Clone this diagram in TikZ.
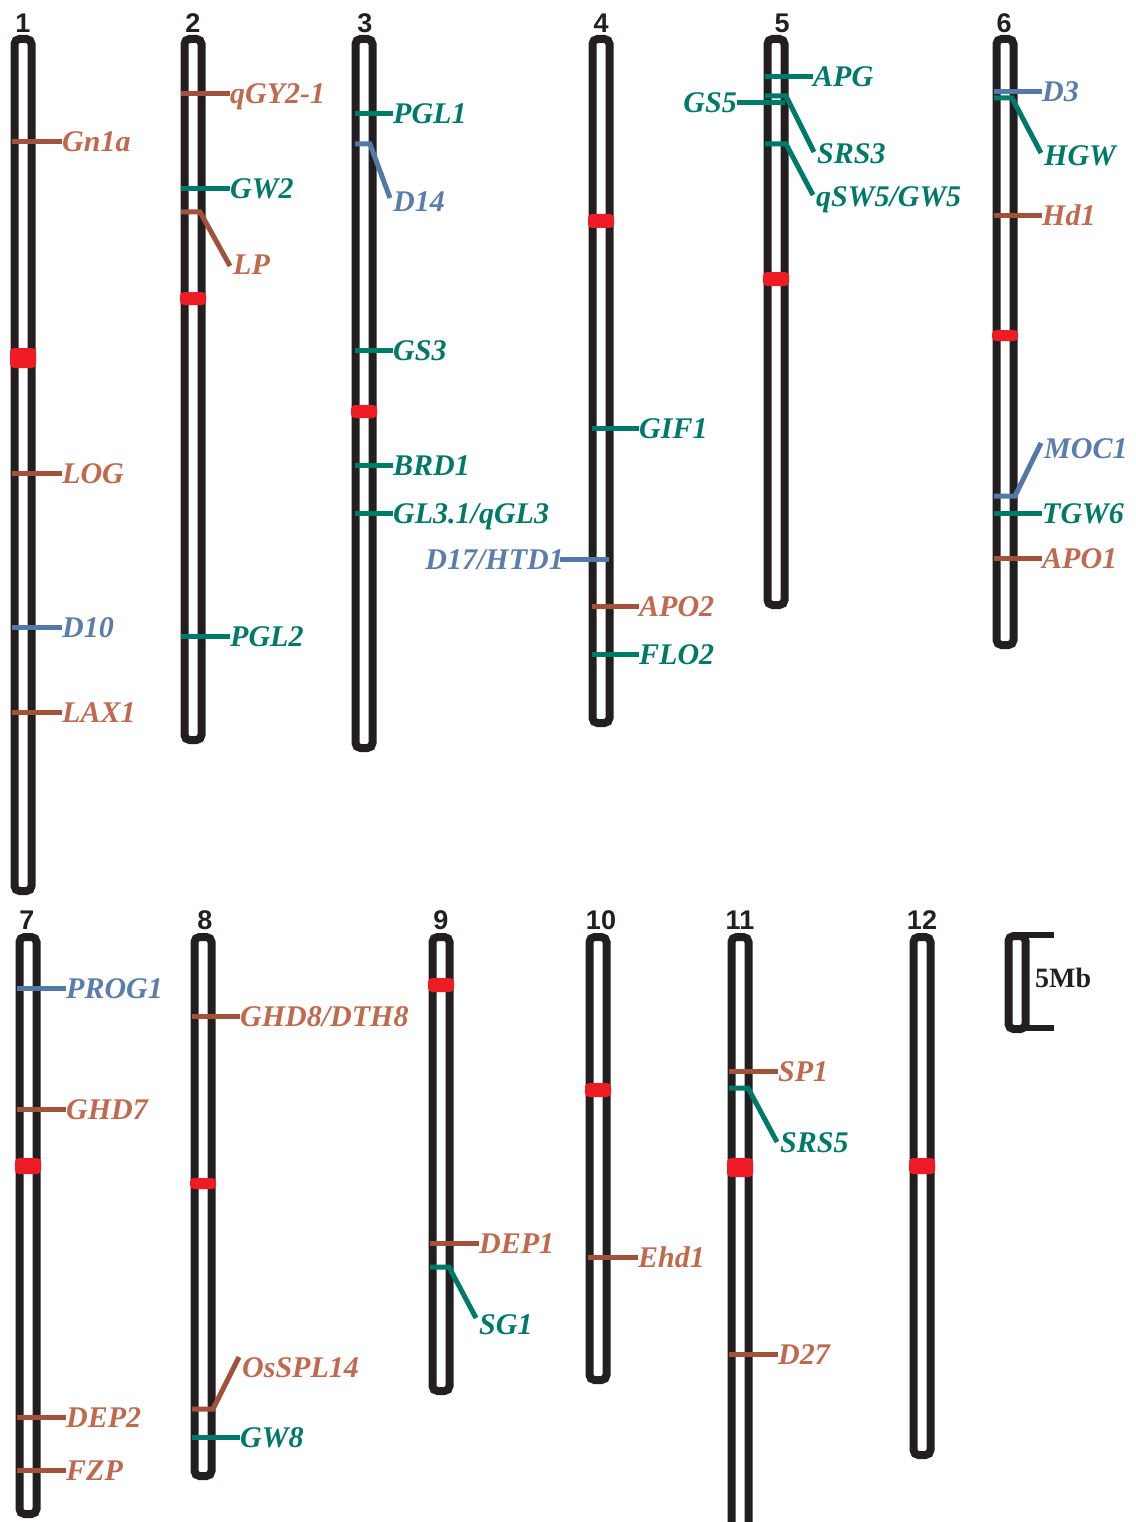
\documentclass[tikz,border=0pt]{standalone}
\usepackage{fontspec}
\setmainfont{Liberation Serif}
\newfontfamily\numfont{Liberation Sans}
\definecolor{chromc}{HTML}{231F20}
\definecolor{cenred}{HTML}{ED1C24}
\definecolor{brl}{HTML}{A0523A}
\definecolor{brt}{HTML}{BF6A4E}
\definecolor{tll}{HTML}{007A68}
\definecolor{tlt}{HTML}{007A68}
\definecolor{bll}{HTML}{5478A8}
\definecolor{blt}{HTML}{5A7DAC}
\tikzset{
  chrom/.style={draw=chromc, line width=8pt, rounded corners=5pt, fill=white},
  cen/.style={fill=cenred, rounded corners=4pt},
  mline/.style={line width=5pt},
  lab/.style={inner sep=0pt, text height=20pt, text depth=0pt, font=\bfseries\itshape\fontsize{30}{30}\selectfont},
  num/.style={inner sep=0pt, text=chromc, font=\numfont\bfseries\fontsize{27}{27}\selectfont},
}
% straight marker: colour, x1, x2, y, name, text
\newcommand{\mk}[6]{%
  \coordinate (#5a) at (#2,#4);
  \node[lab, text=#1t, anchor=west] (#5) at (#3+1,#4) {#6};
  \draw[mline, draw=#1l] (#5a) -- (#5.west);
}
% bent marker: colour, x1, xknee, y, x2, y2, label y, name, text
\newcommand{\bk}[9]{%
  \coordinate (#8a) at (#2,#4);
  \coordinate (#8k) at (#3,#4);
  \coordinate (#8e) at (#5,#6);
  \node[lab, text=#1t, anchor=west] (#8) at (#5+3,#7) {#9};
  \draw[mline, draw=#1l, line join=miter] (#8a) -- (#8k) -- (#8e);
}
% chromosome: name, cx, top, bottom
\newcommand{\chr}[4]{%
  \draw[chrom] (#2-8.5,#3) rectangle (#2+8.5,#4);
  \coordinate (#1) at (#2,#3);
}
% centromere: cx, y1, y2
\newcommand{\cen}[3]{\fill[cen] (#1-13,#2) rectangle (#1+13,#3);}
\begin{document}
\begin{tikzpicture}[x=1pt,y=-1pt]
\clip (0,0) rectangle (1135,1522);
\fill[white] (0,0) rectangle (1135,1522);

% chromosome numbers
\node[num, anchor=base] (n1) at (23,33) {1};
\node[num, anchor=base] (n2) at (193,33) {2};
\node[num, anchor=base] (n3) at (365,33) {3};
\node[num, anchor=base] (n4) at (601,33) {4};
\node[num, anchor=base] (n5) at (782,33) {5};
\node[num, anchor=base] (n6) at (1004,33) {6};
\node[num, anchor=base] (n7) at (27,929) {7};
\node[num, anchor=base] (n8) at (205,929) {8};
\node[num, anchor=base] (n9) at (441,929) {9};
\node[num, anchor=base] (n10) at (601,929) {10};
\node[num, anchor=base] (n11) at (740,929) {11};
\node[num, anchor=base] (n12) at (922,929) {12};

% chromosomes
\chr{c1}{23}{39}{891}
\chr{c2}{193}{39}{740}
\chr{c3}{364}{39}{748}
\chr{c4}{601}{39}{723}
\chr{c5}{776}{39}{605}
\chr{c6}{1005}{39}{645}
\chr{c7}{28}{937}{1514}
\chr{c8}{203}{937}{1476}
\chr{c9}{441}{937}{1391}
\chr{c10}{598}{937}{1380}
\chr{c11}{740}{937}{1545}
\chr{c12}{922}{937}{1455}

% centromeres
\cen{23}{348}{368}
\cen{193}{292}{305}
\cen{364}{405}{418}
\cen{601}{214}{228}
\cen{776}{272}{286}
\cen{1005}{330}{341}
\cen{28}{1158}{1174}
\cen{203}{1178}{1189}
\cen{441}{978}{992}
\cen{598}{1083}{1097}
\cen{740}{1158}{1177}
\cen{922}{1158}{1174}

% chromosome 1
\mk{br}{12}{61}{142}{gnla}{Gn1a}
\mk{br}{12}{61}{473}{logg}{LOG}
\mk{bl}{12}{61}{627}{dten}{D10}
\mk{br}{12}{61}{712}{laxa}{LAX1}

% chromosome 2
\mk{br}{181}{229}{94}{qgy}{qGY2-1}
\mk{tl}{181}{229}{189}{gwtwo}{GW2}
\bk{br}{181}{200}{212}{230}{266}{264}{lp}{LP}
\mk{tl}{181}{229}{636}{pgltwo}{PGL2}

% chromosome 3
\mk{tl}{355}{392}{114}{pglone}{PGL1}
\bk{bl}{355}{370}{144}{390}{198}{202}{dft}{D14}
\mk{tl}{355}{392}{350}{gsthree}{GS3}
\mk{tl}{355}{392}{465}{brd}{BRD1}
\mk{tl}{355}{392}{513}{glthree}{GL3.1/qGL3}

% chromosome 4
\mk{tl}{592}{638}{428}{gif}{GIF1}
\coordinate (dhtda) at (609,559);
\node[lab, text=blt, anchor=east] (dhtd) at (564,559) {D17/HTD1};
\draw[mline, draw=bll] (dhtda) -- ([xshift=-4pt]dhtd.east);
\mk{br}{592}{638}{606}{apotwo}{APO2}
\mk{tl}{592}{638}{654}{flo}{FLO2}

% chromosome 5
\mk{tl}{765}{812}{77}{apg}{APG}
\bk{tl}{765}{786}{96}{814}{152}{154}{srsthree}{SRS3}
\bk{tl}{765}{786}{144}{813}{195}{197}{qsw}{qSW5/GW5}
\coordinate (gsfivea) at (785,103);
\node[lab, text=tlt, anchor=east] (gsfive) at (737,103) {GS5};
\draw[mline, draw=tll] (gsfivea) -- (gsfive.east);

% chromosome 6
\mk{bl}{994}{1041}{92}{dthree}{D3}
\bk{tl}{994}{1012}{98}{1041}{153}{156}{hgw}{HGW}
\mk{br}{994}{1041}{216}{hdone}{Hd1}
\bk{bl}{994}{1015}{496}{1041}{443}{448}{moc}{MOC1}
\mk{tl}{994}{1041}{513}{tgw}{TGW6}
\mk{br}{994}{1041}{558}{apoone}{APO1}

% chromosome 7
\mk{bl}{17}{65}{988}{prog}{PROG1}
\mk{br}{17}{65}{1109}{ghdseven}{GHD7}
\mk{br}{17}{65}{1417}{deptwo}{DEP2}
\mk{br}{17}{65}{1470}{fzp}{FZP}

% chromosome 8
\mk{br}{192}{239}{1016}{ghdeight}{GHD8/DTH8}
\bk{br}{192}{213}{1409}{239}{1357}{1367}{osspl}{OsSPL14}
\mk{tl}{192}{239}{1437}{gweight}{GW8}

% chromosome 9
\mk{br}{430}{478}{1243}{depone}{DEP1}
\bk{tl}{430}{449}{1267}{476}{1318}{1324}{sgone}{SG1}

% chromosome 10
\mk{br}{588}{637}{1257}{ehd}{Ehd1}

% chromosome 11
\mk{br}{729}{777}{1071}{spone}{SP1}
\bk{tl}{729}{748}{1088}{777}{1142}{1142}{srsfive}{SRS5}
\mk{br}{729}{777}{1354}{dts}{D27}

% scale bar
\draw[chrom] (1008.5,936) rectangle (1025.5,1029);
\draw[line width=6pt, draw=chromc] (1021,935) -- (1054,935);
\draw[line width=6pt, draw=chromc] (1021,1028) -- (1054,1028);
\node[inner sep=0pt, anchor=base west, text=chromc, font=\bfseries\fontsize{28}{28}\selectfont] (scale) at (1035,987) {5Mb};
\end{tikzpicture}
\end{document}
